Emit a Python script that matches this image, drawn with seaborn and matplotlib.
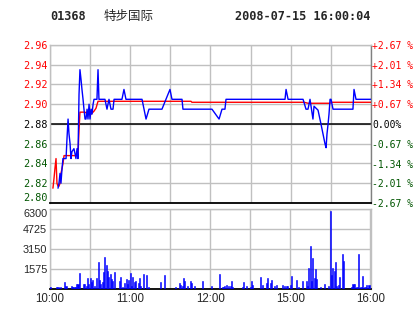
import matplotlib
matplotlib.use("Agg")
import matplotlib.pyplot as plt
import pandas as pd
import seaborn as sns

# ---------------- data ----------------
stock_code = "01368"
stock_name = "特步国际"
stamp = "2008-07-15 16:00:04"
prev_close = 2.88

# minute index since 10:00 (morning 10:00-12:30, afternoon 14:30-16:00)
price_min = [6.0, 6.7, 7.5, 8.2, 9.0, 9.7, 12.0, 12.7, 13.5, 14.2, 15.0, 15.7, 16.4, 17.9,
             18.7, 19.4, 20.2, 20.9, 21.7, 22.4, 23.2, 23.9, 24.7, 25.4, 26.2, 26.9, 27.7,
             28.4, 29.2, 29.9, 30.7, 31.4, 32.2, 32.9, 35.1, 35.9, 36.6, 41.1, 42.6, 44.1,
             45.6, 47.1, 47.9, 53.8, 55.3, 56.8, 68.8, 71.8, 74.0, 83.7, 89.7, 91.2, 98.7,
             99.4, 121.1, 126.4, 128.6, 130.8, 131.6, 175.7, 176.5, 178.0, 189.2, 191.4,
             192.9, 194.4, 196.6, 197.4, 200.4, 202.6, 204.1, 205.6, 206.4, 207.1, 207.9,
             208.6, 209.4, 210.1, 211.6, 226.5, 227.3, 228.8, 240.0]
price_val = [2.815, 2.820, 2.830, 2.820, 2.835, 2.845, 2.845, 2.865, 2.885, 2.870, 2.860,
             2.845, 2.852, 2.855, 2.850, 2.845, 2.855, 2.845, 2.910, 2.935, 2.925, 2.915,
             2.905, 2.895, 2.885, 2.885, 2.895, 2.885, 2.900, 2.885, 2.895, 2.890, 2.900,
             2.905, 2.905, 2.935, 2.905, 2.905, 2.895, 2.905, 2.895, 2.895, 2.905, 2.905,
             2.915, 2.905, 2.905, 2.885, 2.895, 2.895, 2.915, 2.905, 2.905, 2.895, 2.895,
             2.885, 2.895, 2.895, 2.905, 2.905, 2.915, 2.905, 2.905, 2.895, 2.895, 2.905,
             2.885, 2.898, 2.894, 2.880, 2.870, 2.860, 2.856, 2.870, 2.880, 2.890, 2.905,
             2.905, 2.895, 2.895, 2.915, 2.905, 2.905]

avg_min = [2.2, 3.0, 3.7, 4.5, 5.2, 6.0, 6.7, 7.5, 8.2, 9.0, 9.7, 10.5, 20.9, 21.7, 22.4,
           26.2, 28.4, 30.7, 32.9, 34.4, 35.9, 105.4, 106.1, 190.0, 193.0, 209.0, 211.0, 240.0]
avg_val = [2.815, 2.825, 2.835, 2.845, 2.820, 2.817, 2.817, 2.820, 2.830, 2.835, 2.840,
           2.848, 2.848, 2.874, 2.892, 2.892, 2.890, 2.890, 2.893, 2.896, 2.903, 2.903,
           2.902, 2.902, 2.901, 2.901, 2.902, 2.902]

vol_min = [0, 5, 6, 8, 11, 12, 16, 17, 18, 19, 20, 21, 22, 25, 26, 27, 28, 29, 30, 31, 32,
           33, 35, 36, 37, 38, 39, 40, 41, 42, 43, 44, 45, 46, 47, 48, 52, 53, 54, 56, 57,
           58, 59, 60, 61, 62, 63, 64, 66, 67, 68, 70, 72, 74, 83, 86, 94, 97, 98, 99, 100,
           101, 103, 105, 106, 108, 114, 121, 127, 129, 130, 131, 132, 134, 135, 136, 137,
           144, 145, 147, 150, 151, 152, 158, 159, 162, 163, 165, 166, 168, 170, 174, 176,
           177, 178, 180, 181, 185, 186, 189, 192, 193, 194, 195, 196, 197, 198, 199, 200,
           203, 206, 209, 210, 211, 212, 213, 214, 215, 216, 217, 219, 220, 226, 227, 228,
           230, 231, 233, 234, 236, 237, 239]
vol_val = [184, 160, 160, 160, 580, 260, 260, 180, 180, 180, 420, 420, 1290, 420, 420, 260,
           890, 420, 890, 525, 680, 260, 890, 2150, 735, 420, 525, 1365, 2546, 1916, 1440,
           970, 1200, 810, 655, 1365, 655, 970, 184, 500, 810, 420, 735, 1290, 260, 970,
           577, 655, 500, 890, 260, 1200, 1130, 184, 577, 1130, 184, 500, 340, 260, 890,
           655, 260, 655, 500, 260, 655, 260, 1200, 184, 184, 260, 340, 260, 260, 655, 184,
           184, 577, 260, 184, 655, 340, 970, 340, 500, 890, 500, 735, 260, 340, 340, 260,
           260, 260, 340, 1050, 735, 184, 655, 655, 260, 1680, 3412, 600, 2467, 890, 1600,
           810, 184, 420, 260, 6150, 1130, 1680, 1440, 2150, 260, 340, 970, 2780, 2230, 184,
           420, 420, 184, 2780, 184, 1050, 184, 340, 340]

price_ticks = [2.80, 2.82, 2.84, 2.86, 2.88, 2.90, 2.92, 2.94, 2.96]
price_labels = ["2.80", "2.82", "2.84", "2.86", "2.88", "2.90", "2.92", "2.94", "2.96"]
pct_labels = ["-2.67 %", "-2.01 %", "-1.34 %", "-0.67 %", "0.00%",
              "+0.67 %", "+1.34 %", "+2.01 %", "+2.67 %"]
vol_ticks = [0, 1575, 3150, 4725, 6300]
vol_labels = ["", "1575", "3150", "4725", "6300"]
grid_minutes = [0, 30, 60, 90, 120, 150, 180, 210, 240]
time_labels = ["10:00", "", "11:00", "", "12:00", "", "15:00", "", "16:00"]

# ---------------- style ----------------
RED = "#FF0000"
GREEN = "#005500"
BLUE = "#0000FF"
GRID = "#C0C0C0"
MONO = ["DejaVu Sans Mono", "Noto Sans CJK SC"]

sns.set_style("white")
plt.rcParams["font.family"] = ["DejaVu Sans", "Noto Sans CJK SC"]

fig = plt.figure(figsize=(4.14, 3.14), dpi=100)
W, H = 414.0, 314.0
ax = fig.add_axes([50 / W, 1 - 203 / H, 321 / W, 158 / H])
axv = fig.add_axes([50 / W, 1 - 289 / H, 321 / W, 80 / H])

price_df = pd.DataFrame({"minute": price_min, "price": price_val})
avg_df = pd.DataFrame({"minute": avg_min, "price": avg_val})
vol_df = pd.DataFrame({"minute": vol_min, "volume": vol_val})


def level_color(v):
    if abs(v - prev_close) < 1e-9:
        return "black"
    return RED if v > prev_close else GREEN


# ---------------- price panel ----------------
ax.set_xlim(0, 240)
ax.set_ylim(price_ticks[0], price_ticks[-1])
ax.set_xticks(grid_minutes)
ax.set_xticklabels([])
ax.set_yticks(price_ticks)
ax.grid(True, color=GRID, lw=1.0)
ax.set_axisbelow(True)
ax.axhline(prev_close, color="black", lw=1.1, zorder=2)

sns.lineplot(data=avg_df, x="minute", y="price", ax=ax, color=RED, lw=1.0,
             sort=False, estimator=None, zorder=3)
sns.lineplot(data=price_df, x="minute", y="price", ax=ax, color=BLUE, lw=1.0,
             sort=False, estimator=None, zorder=4)
ax.set_xlabel("")
ax.set_ylabel("")

ax.set_yticklabels(price_labels, fontfamily=MONO, fontsize=7.3)
for lab, v in zip(ax.get_yticklabels(), price_ticks):
    lab.set_color(level_color(v))
ax.get_yticklabels()[0].set_verticalalignment("bottom")
ax.tick_params(axis="both", length=0, pad=2)
for side in ["left", "top"]:
    ax.spines[side].set_color(GRID)
    ax.spines[side].set_linewidth(1.0)
ax.spines["right"].set_color("#808080")
ax.spines["right"].set_linewidth(1.0)
ax.spines["bottom"].set_color("black")
ax.spines["bottom"].set_linewidth(1.3)

axr = ax.twinx()
axr.set_ylim(ax.get_ylim())
axr.set_yticks(price_ticks)
axr.set_yticklabels(pct_labels, fontfamily=MONO, fontsize=7.0)
for lab, v in zip(axr.get_yticklabels(), price_ticks):
    lab.set_color(level_color(v))
axr.tick_params(axis="y", length=0, pad=1)
for s in axr.spines.values():
    s.set_visible(False)
axr.grid(False)

# ---------------- volume panel ----------------
sns.barplot(data=vol_df, x="minute", y="volume", ax=axv, native_scale=True,
            color=BLUE, saturation=1, errorbar=None, width=0.8, edgecolor=BLUE,
            linewidth=0.4, zorder=3)
axv.set_xlim(0, 240.5)
axv.set_ylim(0, vol_ticks[-1])
axv.set_xticks(grid_minutes)
axv.set_xticklabels(time_labels, fontsize=8.3, fontfamily="Liberation Sans")
axv.set_yticks(vol_ticks)
axv.set_yticklabels(vol_labels, fontsize=7.8, fontfamily="Liberation Sans")
axv.get_yticklabels()[-1].set_verticalalignment("top")
axv.set_xlabel("")
axv.set_ylabel("")
axv.grid(True, color=GRID, lw=1.0)
axv.set_axisbelow(True)
axv.tick_params(axis="both", length=0)
axv.tick_params(axis="y", pad=2)
axv.tick_params(axis="x", pad=3)
for side in ["left", "top", "right"]:
    axv.spines[side].set_color(GRID)
    axv.spines[side].set_linewidth(1.0)
axv.spines["bottom"].set_color("black")
axv.spines["bottom"].set_linewidth(1.3)

# ---------------- header ----------------
fig.text(50 / W, 1 - 16 / H, stock_code, fontfamily=MONO, fontweight="bold",
         fontsize=8.6, ha="left", va="center")
fig.text(104 / W, 1 - 16 / H, stock_name, fontfamily=["Noto Sans CJK SC"],
         fontsize=9.0, ha="left", va="center")
fig.text(370 / W, 1 - 16 / H, stamp, fontfamily=MONO, fontweight="bold",
         fontsize=8.6, ha="right", va="center")

fig.savefig("out.png", dpi=100)
